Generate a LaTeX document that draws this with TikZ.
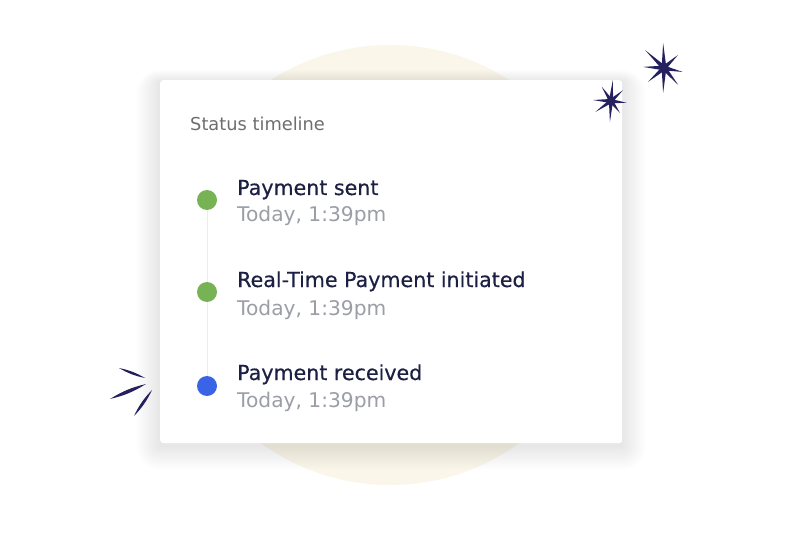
\documentclass[tikz,border=0pt]{standalone}
\usepackage{fontspec}
\setmainfont{DejaVu Sans}
\newfontfamily\medfont[FakeBold=0.45]{DejaVu Sans}
\usetikzlibrary{calc}
\definecolor{navy}{HTML}{25215F}
\definecolor{titlec}{HTML}{1C2143}
\definecolor{subc}{HTML}{9B9EA6}
\definecolor{statc}{HTML}{6E6E6E}
\definecolor{greenc}{HTML}{77B255}
\definecolor{bluec}{HTML}{3A64E6}
\definecolor{linec}{HTML}{ECECEC}
\definecolor{bgc}{HTML}{FBF6EA}
\begin{document}
\begin{tikzpicture}[x=1pt,y=-1pt,
  title/.style={anchor=base west,inner sep=0pt,text=titlec,font=\medfont\fontsize{20.6}{24}\selectfont},
  sub/.style={anchor=base west,inner sep=0pt,text=subc,font=\fontsize{20.2}{24}\selectfont},
  dot/.style={circle,inner sep=0pt,minimum size=20pt},
  ray/.style={fill=navy}]
\useasboundingbox (0,0) rectangle (799,534);
\fill[white] (0,0) rectangle (799,534);
\fill[bgc] (390,265) circle (220);
% card shadow
\foreach \i in {1,...,24}
  \fill[black,opacity=0.004,rounded corners=\i pt] (160-\i,80-0.5*\i+2) rectangle (622+\i,443+\i+3);
\node[fill=white,rounded corners=3pt,minimum width=462pt,minimum height=363pt,inner sep=0pt,anchor=north west] (card) at (160,80) {};
\node[anchor=base west,inner sep=0pt,text=statc,font=\fontsize{17.8}{20}\selectfont] (status) at (190,131) {Status timeline};
% timeline
\node[dot,fill=greenc] (d1) at (207,200) {};
\node[dot,fill=greenc] (d2) at (207,292) {};
\node[dot,fill=bluec] (d3) at (207,386) {};
\draw[linec,line width=1pt] (d1.south) -- (d2.north);
\draw[linec,line width=1pt] (d2.south) -- (d3.north);
\node[title] (t1) at (237,195) {Payment sent};
\node[sub] (s1) at (237,222) {Today, 1:39pm};
\node[title] (t2) at (237,287) {Real-Time Payment initiated};
\node[sub] (s2) at (237,315) {Today, 1:39pm};
\node[title] (t3) at (237,380) {Payment received};
\node[sub] (s3) at (237,407) {Today, 1:39pm};
% sparkles
\coordinate (bigc) at (664,68);
\foreach \a/\l in {268/25,92/25,223.5/26,183/21,139/21,12/19,-43/19,50/22}
  \fill[ray] ($(bigc)+(\a:\l)$) -- ($(bigc)+(\a+90:2.4)$) -- ($(bigc)+(\a+180:2.5)$) -- ($(bigc)+(\a-90:2.4)$) -- cycle;
\fill[ray] (bigc) circle (3.5);
\coordinate (smc) at (611,101);
\foreach \a/\l in {-85/21,93/21,183/18,7/16,237/17,-42/16,145/19,53/15}
  \fill[ray] ($(smc)+(\a:\l)$) -- ($(smc)+(\a+90:2.1)$) -- ($(smc)+(\a+180:2.2)$) -- ($(smc)+(\a-90:2.1)$) -- cycle;
\fill[ray] (smc) circle (3);
% left rays
\coordinate (r1a) at (119,368); \coordinate (r1b) at (145,378);
\coordinate (r2a) at (110,399); \coordinate (r2b) at (146,384);
\coordinate (r3a) at (134,416); \coordinate (r3b) at (152,390);
\fill[ray] (r1a) to[bend left=9] (r1b) to[bend left=9] (r1a);
\fill[ray] (r2a) to[bend left=9] (r2b) to[bend left=9] (r2a);
\fill[ray] (r3a) to[bend left=9] (r3b) to[bend left=9] (r3a);
\end{tikzpicture}
\end{document}
